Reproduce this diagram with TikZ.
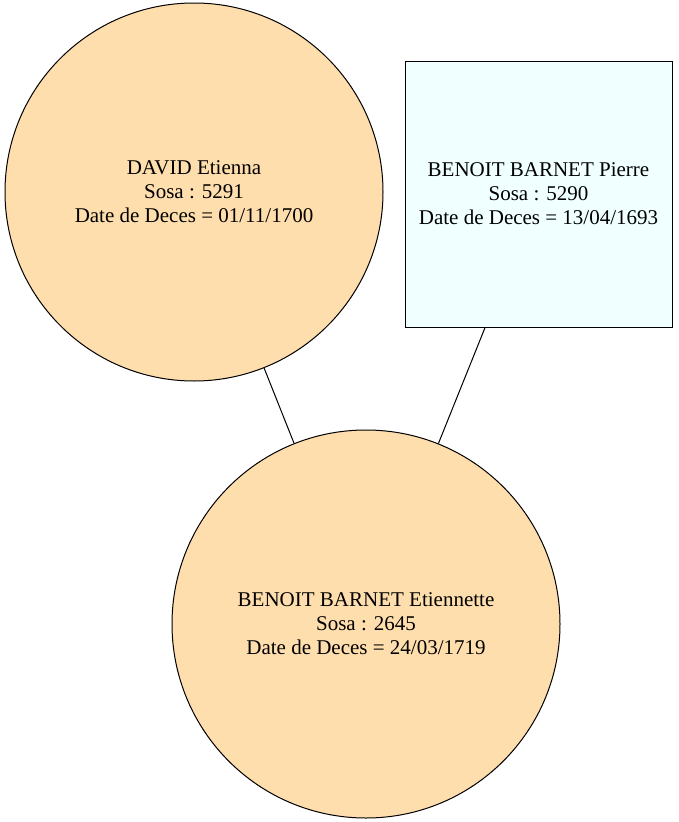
\documentclass[tikz,border=0pt]{standalone}
\usepackage{fontspec}
\setmainfont{Liberation Serif}
\definecolor{navajo}{HTML}{FFDEAD}
\definecolor{azurebox}{HTML}{F0FFFF}

\begin{document}
\begin{tikzpicture}[x=1pt,y=-1pt,
    person/.style={draw=black,line width=1pt,align=center,inner sep=0pt,
      font=\fontsize{21}{24}\selectfont},
    ancestor/.style={person,circle,fill=navajo},
    father/.style={person,rectangle,fill=azurebox}]
    % canvas of the reference
    \useasboundingbox (0,0) rectangle (678,822);

    \node[ancestor,minimum size=378pt] (david) at (194,192)
      {DAVID Etienna\\Sosa : 5291\\Date de Deces = 01/11/1700};
    \node[father,minimum width=267pt,minimum height=266pt] (pierre) at (538.5,194)
      {BENOIT BARNET Pierre\\Sosa : 5290\\Date de Deces = 13/04/1693};
    \node[ancestor,minimum size=388pt] (etiennette) at (366,624)
      {BENOIT BARNET Etiennette\\Sosa : 2645\\Date de Deces = 24/03/1719};

    % parents to child
    \draw[line width=1pt] (david) -- (etiennette);
    \draw[line width=1pt] (pierre) -- (etiennette);
\end{tikzpicture}
\end{document}
